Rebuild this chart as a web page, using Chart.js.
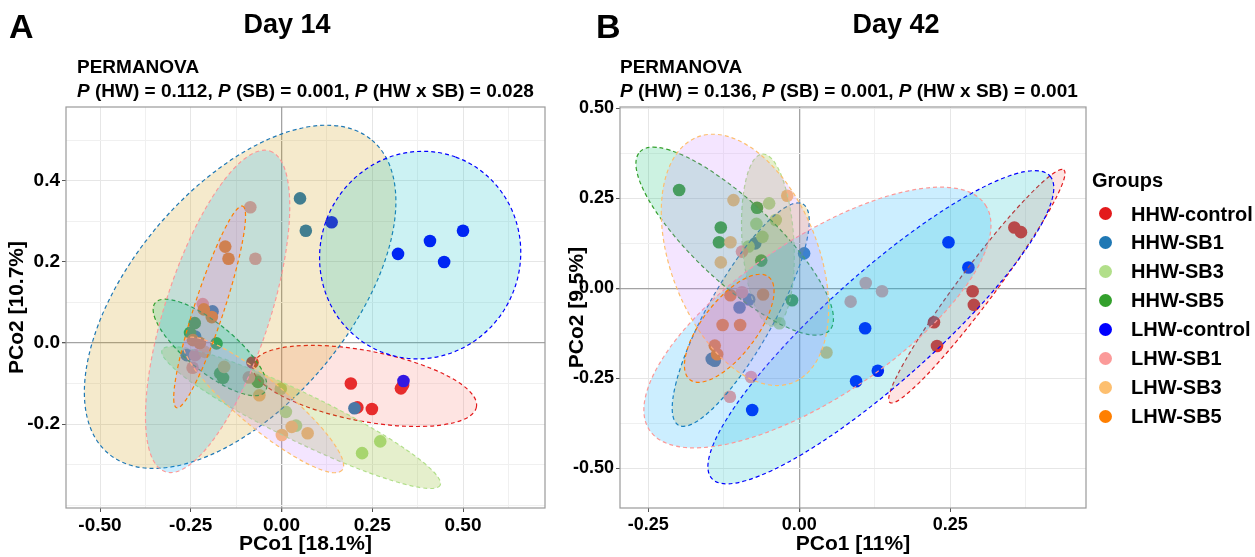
<!DOCTYPE html>
<html>
<head>
<meta charset="utf-8">
<script src="https://cdn.jsdelivr.net/npm/chart.js@4.4.1/dist/chart.umd.min.js"></script>
<style>
  body { margin: 0; background: #fff; width: 1255px; height: 557px; overflow: hidden; position: relative;
    font-family: "Liberation Sans", Arial, sans-serif; font-weight: bold; color: #000; }
  canvas { position: absolute; top: 0; }
  .txt { position: absolute; white-space: nowrap; line-height: 1; }
  .letter { font-size: 34px; top: 9px; }
  .day { font-size: 27px; top: 11px; transform: translateX(-50%); }
  .perm { font-size: 19px; }
  .leg-title { font-size: 20px; left: 1092px; top: 170px; }
  .leg-row { position: absolute; left: 1099px; height: 20px; }
  .leg-dot { position: absolute; left: 0; top: 3.5px; width: 13px; height: 13px; border-radius: 50%; }
  .leg-text { position: absolute; left: 32px; top: 0; font-size: 20px; line-height: 20px; white-space: nowrap; }
</style>
</head>
<body>
<canvas id="day14" width="560" height="557" style="left:0"></canvas>
<canvas id="day42" width="535" height="557" style="left:560px"></canvas>

<div class="txt letter" style="left:9px">A</div>
<div class="txt day" style="left:287px">Day 14</div>
<div class="txt perm" style="left:77px;top:57px">PERMANOVA</div>
<div class="txt perm" style="left:77px;top:81px"><i>P</i> (HW) = 0.112, <i>P</i> (SB) = 0.001, <i>P</i> (HW x SB) = 0.028</div>

<div class="txt letter" style="left:596px">B</div>
<div class="txt day" style="left:896px">Day 42</div>
<div class="txt perm" style="left:620px;top:57px">PERMANOVA</div>
<div class="txt perm" style="left:620px;top:81px"><i>P</i> (HW) = 0.136, <i>P</i> (SB) = 0.001, <i>P</i> (HW x SB) = 0.001</div>

<div id="legend"></div>

<script>
const groupNames = ['HHW-control', 'HHW-SB1', 'HHW-SB3', 'HHW-SB5', 'LHW-control', 'LHW-SB1', 'LHW-SB3', 'LHW-SB5']
const pointColors = ['#E31A1C', '#1F78B4', '#B2DF8A', '#33A02C', '#0000FF', '#FB9A99', '#FDBF6F', '#FF7F00']
const fillColors = ['rgba(248,118,109,0.2)', 'rgba(205,150,0,0.2)', 'rgba(124,174,0,0.2)', 'rgba(0,190,103,0.2)',
  'rgba(0,191,196,0.2)', 'rgba(0,169,255,0.2)', 'rgba(199,124,255,0.2)', 'rgba(255,97,204,0.2)']

// Day 14 sample coordinates, one row per group
const day14X = [
  [-0.080, 0.191, 0.209, 0.249, 0.329, 0.335],
  [0.051, 0.067, -0.190, -0.238, -0.261, 0.201],
  [-0.070, -0.002, 0.012, 0.040, 0.272, 0.222],
  [-0.239, -0.179, -0.169, -0.161, -0.065, -0.252],
  [0.138, 0.321, 0.409, 0.448, 0.500, 0.336],
  [-0.086, -0.072, -0.217, -0.225, -0.238, -0.245, -0.090],
  [-0.211, -0.158, -0.061, 0.001, 0.028, 0.072],
  [-0.155, -0.146, -0.214, -0.192, -0.225, -0.244],
]
const day14Y = [
  [-0.048, -0.100, -0.159, -0.163, -0.112, -0.104],
  [0.357, 0.277, 0.078, 0.016, -0.030, -0.161],
  [-0.091, -0.113, -0.170, -0.204, -0.243, -0.272],
  [0.049, -0.001, -0.075, -0.086, -0.096, 0.025],
  [0.298, 0.220, 0.252, 0.200, 0.277, -0.094],
  [0.335, 0.208, 0.096, -0.001, -0.030, -0.061, -0.085],
  [-0.022, -0.059, -0.129, -0.227, -0.207, -0.223],
  [0.238, 0.208, 0.083, 0.064, 0.000, 0.007],
]

// Day 42 sample coordinates
const day42X = [
  [0.356, 0.367, 0.287, 0.289, 0.223, 0.228],
  [-0.073, 0.008, -0.083, -0.099, -0.145, -0.140],
  [-0.050, -0.071, -0.039, -0.061, -0.084, -0.033],
  [-0.199, -0.130, -0.133, -0.070, -0.063, -0.012],
  [0.247, 0.280, 0.109, 0.130, 0.094, -0.078],
  [0.110, 0.137, 0.085, -0.080, -0.115, -0.095, -0.095],
  [-0.109, -0.114, -0.130, -0.020, 0.045],
  [-0.114, -0.140, -0.136, -0.127, -0.098, -0.060],
]
const day42Y = [
  [0.169, 0.156, -0.008, -0.046, -0.094, -0.160],
  [0.125, 0.097, -0.031, -0.053, -0.196, -0.201],
  [0.236, 0.179, 0.190, 0.143, 0.116, -0.097],
  [0.273, 0.169, 0.128, 0.224, 0.077, -0.033],
  [0.128, 0.058, -0.111, -0.229, -0.258, -0.338],
  [0.015, -0.008, -0.037, -0.246, -0.301, -0.011, 0.102],
  [0.245, 0.128, 0.072, 0.257, -0.178],
  [-0.019, -0.159, -0.183, -0.102, -0.102, -0.017],
]

// 95% ellipses: centre, end of the long half-axis, short/long ratio
const ellipse14Center = [[0.229, -0.106], [-0.114, 0.114], [0.054, -0.184], [-0.197, -0.011],
  [0.382, 0.217], [-0.176, 0.078], [-0.050, -0.153], [-0.198, 0.089]]
const ellipse14End = [[0.537, -0.158], [0.249, 0.501], [0.437, -0.351], [-0.046, -0.121],
  [0.480, 0.459], [-0.032, 0.474], [0.167, -0.314], [-0.107, 0.338]]
const ellipse14Ratio = [0.31, 0.53, 0.155, 0.34, 0.96, 0.31, 0.235, 0.14]

const ellipse42Center = [[0.294, 0.006], [-0.097, -0.073], [-0.052, 0.134], [-0.107, 0.131],
  [0.135, -0.108], [0.030, -0.081], [-0.090, 0.079], [-0.116, -0.111]]
const ellipse42End = [[0.438, 0.329], [0.006, 0.234], [-0.061, 0.373], [-0.264, 0.379],
  [0.415, 0.312], [0.308, 0.232], [-0.169, 0.420], [-0.051, 0.032]]
const ellipse42Ratio = [0.125, 0.26, 0.3, 0.31, 0.24, 0.39, 0.56, 0.42]

// axis ticks
const x14Ticks = [-0.5, -0.25, 0, 0.25, 0.5]
const x14Labels = ['-0.50', '-0.25', '0.00', '0.25', '0.50']
const y14Ticks = [-0.2, 0, 0.2, 0.4]
const y14Labels = ['-0.2', '0.0', '0.2', '0.4']
const x42Ticks = [-0.25, 0, 0.25]
const x42Labels = ['-0.25', '0.00', '0.25']
const y42Ticks = [-0.5, -0.25, 0, 0.25, 0.5]
const y42Labels = ['-0.50', '-0.25', '0.00', '0.25', '0.50']

const FONT = "'Liberation Sans', Arial, sans-serif"

const near = (a, b) => Math.abs(a - b) < 1e-6

const ellipsePlugin = {
  id: 'ellipses',
  afterDatasetsDraw(chart, args, opts) {
    const { ctx, chartArea, scales: { x, y } } = chart
    ctx.save()
    ctx.beginPath()
    ctx.rect(chartArea.left, chartArea.top, chartArea.width, chartArea.height)
    ctx.clip()
    opts.centers.forEach((c, i) => {
      const cx = x.getPixelForValue(c[0])
      const cy = y.getPixelForValue(c[1])
      const ex = x.getPixelForValue(opts.ends[i][0])
      const ey = y.getPixelForValue(opts.ends[i][1])
      const a = Math.hypot(ex - cx, ey - cy)
      ctx.beginPath()
      ctx.ellipse(cx, cy, a, a * opts.ratios[i], Math.atan2(ey - cy, ex - cx), 0, Math.PI * 2)
      ctx.fillStyle = fillColors[i]
      ctx.fill()
      ctx.setLineDash([4, 3])
      ctx.lineWidth = 1.2
      ctx.strokeStyle = pointColors[i]
      ctx.stroke()
    })
    ctx.restore()
  },
}

const framePlugin = {
  id: 'frame',
  afterDraw(chart) {
    const { ctx, chartArea: a } = chart
    ctx.save()
    ctx.strokeStyle = '#9a9a9a'
    ctx.lineWidth = 1.2
    ctx.strokeRect(a.left, a.top, a.width, a.height)
    ctx.restore()
  },
}

const axis = (min, max, major, labels, title, thickness, horizontal, tickSize) => {
  const half = (major[1] - major[0]) / 2
  let start = major[0]
  while (start - half >= min) start -= half
  const all = []
  for (let v = start; v <= max + 1e-9; v += half) all.push(Math.round(v * 1e6) / 1e6)
  return {
    type: 'linear',
    min: min,
    max: max,
    afterBuildTicks: (s) => { s.ticks = all.map((v) => ({ value: v })) },
    afterFit: (s) => { if (horizontal) s.height = thickness; else s.width = thickness },
    border: { display: false },
    grid: {
      color: (c) => near(c.tick.value, 0) ? '#a3a3a3' : (major.some((m) => near(m, c.tick.value)) ? '#e6e6e6' : '#f0f0f0'),
      lineWidth: (c) => near(c.tick.value, 0) ? 1.3 : 1,
      tickColor: (c) => major.some((m) => near(m, c.tick.value)) ? '#555' : 'rgba(0,0,0,0)',
      tickLength: 4,
    },
    ticks: {
      autoSkip: false,
      maxRotation: 0,
      padding: 2,
      color: '#000',
      font: { family: FONT, size: tickSize, weight: 'bold' },
      callback: (v) => {
        const k = major.findIndex((m) => near(m, v))
        return k < 0 ? '' : labels[k]
      },
    },
    title: {
      display: true,
      text: title,
      color: '#000',
      font: { family: FONT, size: 21, weight: 'bold' },
      padding: { top: 5, bottom: 0 },
    },
  }
}

const scatterPanel = (node, xs, ys, ellipses, scales, padRight) => {
  const content = {
    datasets: groupNames.map((name, i) => ({
      label: name,
      data: xs[i].map((x, j) => ({ x: x, y: ys[i][j] })),
      backgroundColor: pointColors[i],
      borderWidth: 0,
      pointRadius: 6.3,
      pointHoverRadius: 6.3,
      order: groupNames.length - i,
    })),
  }
  const config = {
    type: 'scatter',
    data: content,
    options: {
      responsive: false,
      animation: false,
      devicePixelRatio: 1,
      layout: { padding: { top: 107, right: padRight, left: 0, bottom: 0 } },
      scales: scales,
      plugins: {
        legend: { display: false },
        tooltip: { enabled: false },
        ellipses: ellipses,
      },
    },
    plugins: [ellipsePlugin, framePlugin],
  }
  return new Chart(node, config)
}

scatterPanel(document.getElementById('day14'), day14X, day14Y,
  { centers: ellipse14Center, ends: ellipse14End, ratios: ellipse14Ratio },
  {
    x: axis(-0.5937, 0.7259, x14Ticks, x14Labels, 'PCo1 [18.1%]', 49, true, 19),
    y: axis(-0.4074, 0.5827, y14Ticks, y14Labels, 'PCo2 [10.7%]', 66, false, 19),
  }, 15)

scatterPanel(document.getElementById('day42'), day42X, day42Y,
  { centers: ellipse42Center, ends: ellipse42End, ratios: ellipse42Ratio },
  {
    x: axis(-0.2969, 0.4747, x42Ticks, x42Labels, 'PCo1 [11%]', 49, true, 18),
    y: axis(-0.610, 0.5036, y42Ticks, y42Labels, 'PCo2 [9.5%]', 60, false, 18),
  }, 9)

// legend
const legend = document.getElementById('legend')
legend.innerHTML = '<div class="txt leg-title">Groups</div>' + groupNames.map((name, i) =>
  `<div class="leg-row" style="top:${203.5 + 28.96 * i}px"><span class="leg-dot" style="background:${pointColors[i]}"></span>` +
  `<span class="leg-text">${name}</span></div>`).join('')
</script>
</body>
</html>
